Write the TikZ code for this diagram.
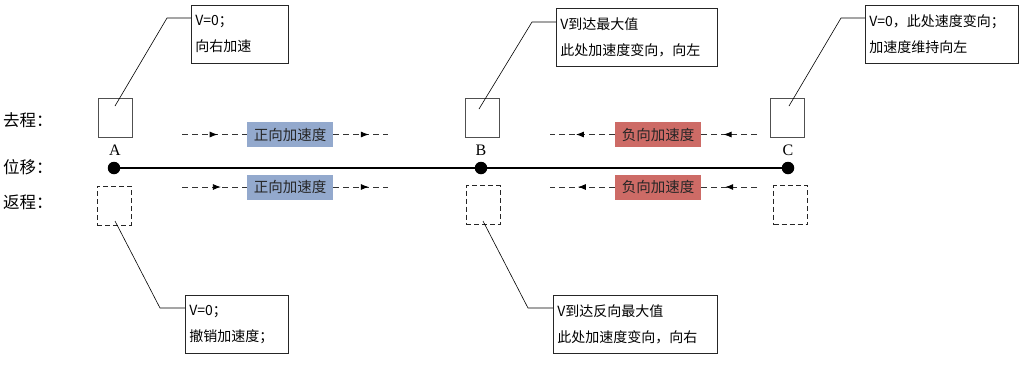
\documentclass[tikz,border=0pt]{standalone}
\usepackage{fontspec}
\setmainfont{Liberation Serif}
\newfontfamily\cjk{Noto Sans CJK SC}
\usetikzlibrary{arrows.meta,decorations.markings}
\definecolor{posblue}{HTML}{93A9CD}
\definecolor{negred}{HTML}{CD6B66}
\definecolor{boxgray}{HTML}{505050}
\begin{document}
\begin{tikzpicture}[x=1pt,y=-1pt,
 sq/.style={draw=boxgray,line width=0.9pt,minimum width=34pt,minimum height=39pt,inner sep=0pt},
 dsq/.style={sq,draw=black!85,dash pattern=on 5pt off 3pt},
 dot/.style={circle,fill=black,minimum size=12.5pt,inner sep=0pt},
 ptlabel/.style={font=\fontsize{16}{16}\selectfont},
 rowlabel/.style={anchor=west,inner sep=0pt,font=\cjk\fontsize{16.5}{16.5}\selectfont},
 callout/.style={draw=black!85,line width=0.8pt,anchor=north west,inner xsep=4pt,inner ysep=0pt,
   minimum height=58pt,align=left,font=\cjk\fontsize{14}{26}\selectfont},
 lead/.style={line width=0.6pt},
 acc/.style={inner sep=0pt,minimum width=86pt,minimum height=25pt,
   font=\cjk\fontsize{14.5}{15}\selectfont,text=black!85},
 dline/.style={draw=black!80,line width=0.8pt,dash pattern=on 6pt off 4pt},
 arrmark/.style={postaction={decorate},decoration={markings,
   mark=at position #1 with {\arrow[black]{Latex[length=8pt,width=6pt]}}}}
 ]
\useasboundingbox (0,0) rectangle (1021,368);

% row labels
\node[rowlabel] (go) at (3,120) {去程：};
\node[rowlabel] (disp) at (3,167) {位移：};
\node[rowlabel] (back) at (3,202) {返程：};

% squares
\node[sq] (sqAt) at (115,117.5) {};
\node[sq] (sqBt) at (482,117.5) {};
\node[sq] (sqCt) at (787,117.5) {};
\node[dsq] (sqAb) at (114,205.5) {};
\node[dsq] (sqBb) at (483,205) {};
\node[dsq] (sqCb) at (790.5,205) {};

% axis
\node[dot] (A) at (114,168) {};
\node[dot] (B) at (481,168) {};
\node[dot] (C) at (788,168) {};
\draw[line width=2.8pt] (A) -- (C);
\node[ptlabel] (lA) at (115,150) {A};
\node[ptlabel] (lB) at (481,150) {B};
\node[ptlabel] (lC) at (788,150) {C};

% acceleration labels
\node[acc,fill=posblue] (pt1) at (290,134.5) {正向加速度};
\node[acc,fill=posblue] (pt2) at (290,187) {正向加速度};
\node[acc,fill=negred] (nt1) at (658,134.5) {负向加速度};
\node[acc,fill=negred] (nt2) at (658,187) {负向加速度};

\coordinate (l1) at (182,134.5);
\coordinate (r1) at (388,134.5);
\coordinate (l2) at (182,187);
\coordinate (r2) at (388,187);
\coordinate (l3) at (550,134.5);
\coordinate (r3) at (757,134.5);
\coordinate (l4) at (550,187);
\coordinate (r4) at (757,187);

\draw[dline,arrmark=0.55] (l1) -- (pt1.west);
\draw[dline,arrmark=0.65] (pt1.east) -- (r1);
\draw[dline,arrmark=0.6] (l2) -- (pt2.west);
\draw[dline,arrmark=0.65] (pt2.east) -- (r2);
\draw[dline,arrmark=0.6] (nt1.west) -- (l3);
\draw[dline,arrmark=0.6] (r3) -- (nt1.east);
\draw[dline,arrmark=0.57] (nt2.west) -- (l4);
\draw[dline,arrmark=0.57] (r4) -- (nt2.east);

% callouts
\node[callout,minimum width=97pt,text width=89pt] (calAt) at (191,5) {V=0；\\向右加速};
\node[callout,minimum width=161pt,text width=153pt] (calBt) at (556,8) {V到达最大值\\此处加速度变向，向左};
\node[callout,minimum width=153pt,text width=145pt] (calCt) at (865,5) {V=0，此处速度变向；\\加速度维持向左};
\node[callout,minimum width=103pt,text width=95pt] (calAb) at (185,295) {V=0；\\撤销加速度；};
\node[callout,minimum width=164pt,text width=156pt] (calBb) at (553,295) {V到达反向最大值\\此处加速度变向，向右};

% leaders
\coordinate (kA) at (167,18);
\coordinate (pA) at (115,106);
\coordinate (kB) at (532,22);
\coordinate (pB) at (479,109);
\coordinate (kC) at (841,18);
\coordinate (pC) at (789,106);
\coordinate (pAb) at (115,221);
\coordinate (kAb) at (160,308);
\coordinate (pBb) at (483,221);
\coordinate (kBb) at (528,308);

\draw[lead] (calAt.west |- kA) -- (kA) -- (pA);
\draw[lead] (calBt.west |- kB) -- (kB) -- (pB);
\draw[lead] (calCt.west |- kC) -- (kC) -- (pC);
\draw[lead] (pAb) -- (kAb) -- (kAb -| calAb.west);
\draw[lead] (pBb) -- (kBb) -- (kBb -| calBb.west);
\end{tikzpicture}
\end{document}
